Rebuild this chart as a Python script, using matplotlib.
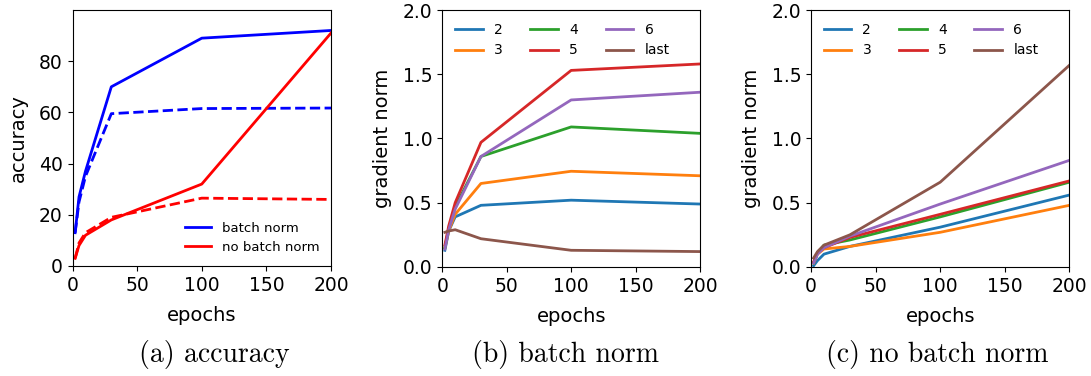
import matplotlib
matplotlib.use('Agg')
from matplotlib import pyplot as plt

# epochs at which values were logged
epochs = [2, 5, 10, 30, 100, 200]

# (a) accuracy
bn_train = [13, 27, 37, 70, 89, 92]
bn_test = [13, 25, 35, 59.5, 61.5, 61.7]
nobn_train = [3, 8, 12, 18, 32, 91]
nobn_test = [3, 9, 13, 19, 26.5, 26]

# (b) gradient norm with batch norm
layers = ['2', '3', '4', '5', '6', 'last']
bn_grad = {
    '2': [0.13, 0.28, 0.39, 0.48, 0.52, 0.49],
    '3': [0.15, 0.28, 0.41, 0.65, 0.745, 0.71],
    '4': [0.15, 0.30, 0.47, 0.86, 1.09, 1.04],
    '5': [0.17, 0.32, 0.50, 0.97, 1.53, 1.58],
    '6': [0.14, 0.29, 0.45, 0.86, 1.30, 1.36],
    'last': [0.27, 0.28, 0.29, 0.22, 0.13, 0.12],
}

# (c) gradient norm without batch norm
nobn_grad = {
    '2': [0.01, 0.05, 0.10, 0.16, 0.31, 0.56],
    '3': [0.03, 0.10, 0.14, 0.16, 0.27, 0.48],
    '4': [0.03, 0.11, 0.17, 0.21, 0.39, 0.66],
    '5': [0.04, 0.11, 0.15, 0.23, 0.41, 0.67],
    '6': [0.03, 0.10, 0.15, 0.24, 0.49, 0.83],
    'last': [0.07, 0.12, 0.17, 0.25, 0.66, 1.57],
}

captions = ['(a) accuracy', '(b) batch norm', '(c) no batch norm']

plt.rcParams['font.size'] = 14
plt.rcParams['xtick.labelsize'] = 13.5
plt.rcParams['ytick.labelsize'] = 13.5
plt.rcParams['axes.labelpad'] = 8
fig = plt.figure(figsize=(10.91, 3.76), dpi=100)

ax1 = fig.add_axes([0.0665, 0.2926, 0.2369, 0.6808])
ax1.plot(epochs, bn_train, c='blue', lw=2, label='batch norm')
ax1.plot(epochs, bn_test, c='blue', lw=2, ls='--')
ax1.plot(epochs, nobn_train, c='red', lw=2, label='no batch norm')
ax1.plot(epochs, nobn_test, c='red', lw=2, ls='--')
ax1.set_xlim(0, 200)
ax1.set_ylim(0, 100)
ax1.set_yticks([0, 20, 40, 60, 80])
ax1.set_xticks([0, 50, 100, 150, 200])
ax1.set_ylabel('accuracy')
ax1.set_xlabel('epochs')
ax1.legend(loc='lower right', frameon=False, fontsize=9.5)

ax2 = fig.add_axes([0.4054, 0.2899, 0.2362, 0.6835])
ax3 = fig.add_axes([0.7434, 0.2899, 0.2368, 0.6835])
for ax, grad in [(ax2, bn_grad), (ax3, nobn_grad)]:
    for i, layer in enumerate(layers):
        ax.plot(epochs, grad[layer], c=f'C{i}', lw=2, label=layer)
    ax.set_xlim(0, 200)
    ax.set_ylim(0, 2)
    ax.set_xticks([0, 50, 100, 150, 200])
    ax.set_yticks([0, 0.5, 1.0, 1.5, 2.0])
    ax.set_ylabel('gradient norm')
    ax.set_xlabel('epochs')
    ax.legend(loc='upper left', ncol=3, frameon=False, fontsize=10)

for x, cap in zip([214, 565, 937], captions):
    fig.text(x / 1091, 0.056, cap, ha='center', va='center',
             fontfamily='cmr10', fontsize=20)

plt.savefig('out.png', dpi=100)
